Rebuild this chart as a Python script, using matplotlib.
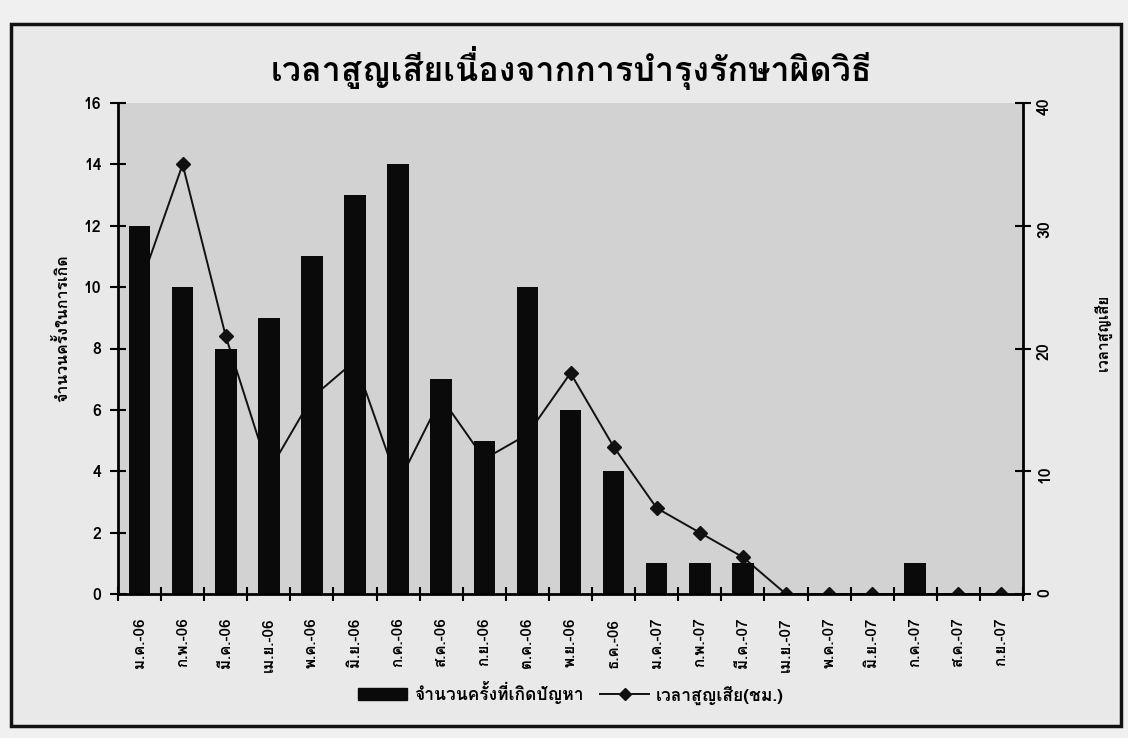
import matplotlib
matplotlib.use("Agg")
import matplotlib.pyplot as plt
from matplotlib import font_manager
from matplotlib.ft2font import FT2Font
from matplotlib.lines import Line2D
from matplotlib.patches import Patch, Rectangle
from matplotlib.ticker import FixedLocator, NullFormatter

# Monthly data, Jan 2006 - Sep 2007
months = ["ม.ค.-06", "ก.พ.-06", "มี.ค.-06", "เม.ย.-06", "พ.ค.-06", "มิ.ย.-06",
          "ก.ค.-06", "ส.ค.-06", "ก.ย.-06", "ต.ค.-06", "พ.ย.-06", "ธ.ค.-06",
          "ม.ค.-07", "ก.พ.-07", "มี.ค.-07", "เม.ย.-07", "พ.ค.-07", "มิ.ย.-07",
          "ก.ค.-07", "ส.ค.-07", "ก.ย.-07"]
problem_counts = [12, 10, 8, 9, 11, 13, 14, 7, 5, 10, 6, 4, 1, 1, 1, 0, 0, 0, 1, 0, 0]
hours_lost = [25, 35, 21, 10, 16, 19, 9, 16, 11, 13, 18, 12, 7, 5, 3, 0, 0, 0, 0, 0, 0]

left_ticks = [0, 2, 4, 6, 8, 10, 12, 14, 16]
right_ticks = [0, 10, 20, 30, 40]

title_text = "เวลาสูญเสียเนื่องจากการบำรุงรักษาผิดวิธี"
left_label = "จำนวนครั้งในการเกิด"
right_label = "เวลาสูญเสีย"
bar_name = "จำนวนครั้งที่เกิดปัญหา"
line_name = "เวลาสูญเสีย(ชม.)"


def find_thai_families():
    found = []
    for entry in font_manager.fontManager.ttflist:
        if entry.name in found:
            continue
        try:
            if 0x0E01 in FT2Font(entry.fname).get_charmap():
                found.append(entry.name)
        except Exception:
            continue
    return found


plt.rcParams["font.family"] = find_thai_families() + ["DejaVu Sans"]
plt.rcParams["font.weight"] = "bold"

W, H = 1128, 738
fig = plt.figure(figsize=(W / 100, H / 100), dpi=100)
fig.patch.set_facecolor("#f0f0f0")

# chart frame
fig.patches.append(Rectangle((11 / W, 1 - 726 / H), 1110 / W, (726 - 24) / H,
                             transform=fig.transFigure, facecolor="#e9e9e9",
                             edgecolor="#111111", linewidth=2.5, zorder=0))

left, right, top, bottom = 118, 1023, 103, 594
ax = fig.add_axes([left / W, 1 - bottom / H, (right - left) / W, (bottom - top) / H])
ax2 = ax.twinx()

# the hours line sits underneath the bars
ax2.set_zorder(1)
ax.set_zorder(2)
ax.patch.set_visible(False)
ax2.patch.set_visible(True)
ax2.patch.set_facecolor("#d2d2d2")

x = list(range(len(months)))
ax.bar(x, problem_counts, width=0.5, color="#0a0a0a", zorder=2)
ax.set_xlim(-0.5, len(months) - 0.5)
ax.set_ylim(0, 16)
ax.set_yticks(left_ticks)
ax.set_xticks(x)
ax.set_xticklabels(months, rotation=90, fontsize=11)
ax.xaxis.set_minor_locator(FixedLocator([i - 0.5 for i in range(len(months) + 1)]))
ax.xaxis.set_minor_formatter(NullFormatter())
ax.tick_params(axis="x", which="major", length=0, pad=17)
ax.tick_params(axis="x", which="minor", length=10, width=1.5, direction="inout")
ax.tick_params(axis="y", length=12, width=1.5, direction="inout", labelsize=11.5, pad=6)
for side in ("top", "right"):
    ax.spines[side].set_visible(False)
for side in ("left", "bottom"):
    ax.spines[side].set_linewidth(2)

ax2.plot(x, hours_lost, color="#111111", linewidth=1.4, marker="D",
         markersize=7, zorder=3)
ax2.set_ylim(0, 40)
ax2.set_yticks(right_ticks)
ax2.tick_params(axis="y", length=12, width=1.5, direction="inout",
                labelsize=11.5, labelrotation=90, pad=4)
for side in ("top", "left", "bottom"):
    ax2.spines[side].set_visible(False)
ax2.spines["right"].set_linewidth(2)

fig.text(62 / W, 1 - 328 / H, left_label, rotation=90, ha="center",
         va="center", fontsize=11.5)
fig.text(1103 / W, 1 - 332 / H, right_label, rotation=90, ha="center",
         va="center", fontsize=11)
fig.text(571 / W, 1 - 68 / H, title_text, ha="center", va="center",
         fontsize=24.5, fontweight="bold")

handles = [Patch(facecolor="#0a0a0a", edgecolor="#0a0a0a"),
           Line2D([0], [0], color="#111111", linewidth=1.4, marker="D",
                  markersize=6)]
fig.legend(handles, [bar_name, line_name], loc="center",
           bbox_to_anchor=(571 / W, 1 - 693 / H), ncol=2, frameon=False,
           fontsize=12.5, handlelength=2.8, columnspacing=1.0, handletextpad=0.4)

fig.savefig("out.png", dpi=100, facecolor=fig.get_facecolor())
